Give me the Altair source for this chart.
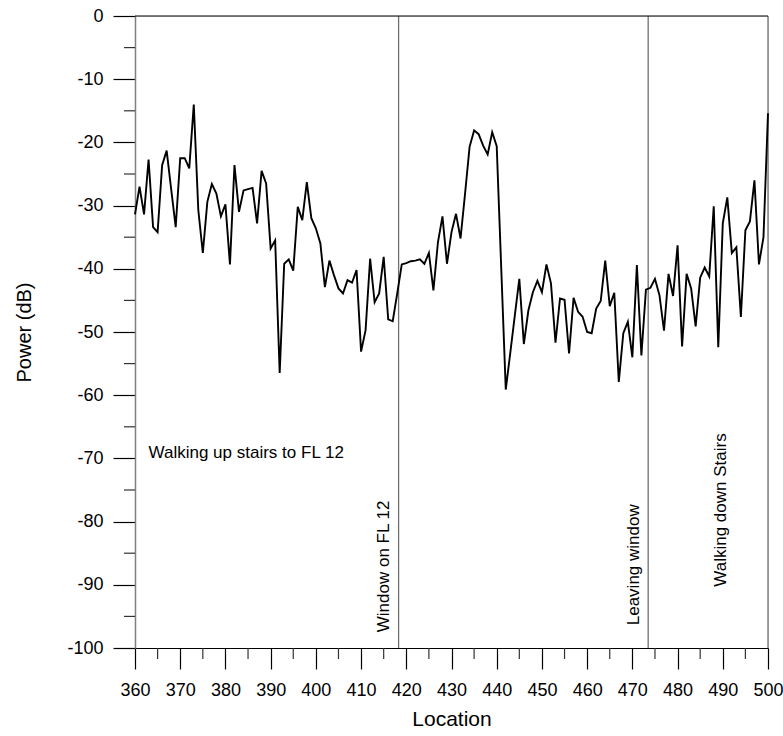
import altair as alt
import pandas as pd

locations = list(range(360, 501))
power = [
    -31.4, -27.0, -31.4, -22.7, -33.4, -34.2, -23.6, -21.3, -27.4, -33.4,
    -22.5, -22.5, -24.1, -14.0, -30.7, -37.5, -29.4, -26.6, -28.1, -31.7,
    -29.8, -39.3, -23.6, -31.0, -27.6, -27.4, -27.2, -32.8, -24.5, -26.5,
    -36.8, -35.5, -56.5, -39.2, -38.5, -40.3, -30.2, -32.3, -26.3, -32.0,
    -33.6, -36.0, -42.9, -38.7, -41.0, -43.1, -43.9, -41.8, -42.2, -40.2,
    -53.1, -49.7, -38.4, -45.3, -43.9, -38.1, -48.0, -48.3, -43.9, -39.3,
    -39.1, -38.8, -38.7, -38.5, -39.2, -37.5, -43.4, -35.8, -31.7, -39.2,
    -34.2, -31.3, -35.2, -28.1, -20.7, -18.1, -18.7, -20.5, -21.9, -18.4,
    -20.6, -39.9, -59.1, -53.3, -47.4, -41.6, -51.9, -46.6, -43.7, -41.9,
    -43.7, -39.3, -42.3, -51.7, -44.7, -44.9, -53.4, -44.6, -46.8, -47.6,
    -50.0, -50.2, -46.3, -45.1, -38.7, -45.9, -43.8, -57.9, -50.2, -48.4,
    -54.0, -39.4, -53.7, -43.3, -43.0, -41.6, -44.2, -49.8, -40.8, -44.3,
    -36.3, -52.3, -40.8, -43.1, -49.1, -41.4, -39.8, -41.2, -30.1, -52.4,
    -32.8, -28.7, -37.5, -36.6, -47.6, -33.9, -32.5, -26.0, -39.3, -35.0,
    -15.4,
]

x_major = list(range(360, 501, 10))
x_minor = list(range(365, 500, 10))
y_major = list(range(-100, 1, 10))
y_minor = list(range(-95, 0, 10))

marker_locs = [418.3, 473.5, 500]

ann_text = ["Walking up stairs to FL 12"]
ann_x = [363]
ann_y = [-69.2]

vtext = ["Window on FL 12", "Leaving window", "Walking down Stairs"]
vtext_x = [415.0, 470.3, 489.6]
vtext_y = [-97.5, -96.4, -90.3]

FONT = "Liberation Sans"
W, H = 633, 632

df = pd.DataFrame({"Location": locations, "Power": power})
markers = pd.DataFrame({"Location": marker_locs})
ann = pd.DataFrame({"text": ann_text, "x": ann_x, "y": ann_y})
vann = pd.DataFrame({"text": vtext, "x": vtext_x, "y": vtext_y})
top = pd.DataFrame({"Power": [0]})
xmin_df = pd.DataFrame({"Location": x_minor})
ymin_df = pd.DataFrame({"Power": y_minor})

x_scale = alt.Scale(domain=[360, 500], nice=False, zero=False)
y_scale = alt.Scale(domain=[-100, 0], nice=False, zero=False)

x_axis = alt.Axis(
    values=x_major,
    labelExpr="'' + datum.value",
    tickSize=21,
    tickColor="#000000",
    tickWidth=1.2,
    domainColor="#000000",
    domainWidth=1.2,
    grid=False,
    labelFont=FONT,
    labelFontSize=18,
    labelColor="#000000",
    labelPadding=12,
    labelFlush=False,
    labelOverlap=False,
    title="Location",
    titleFont=FONT,
    titleFontSize=21,
    titleFontWeight="normal",
    titleColor="#000000",
    titlePadding=9,
)

y_axis = alt.Axis(
    values=y_major,
    labelExpr="'' + datum.value",
    tickSize=22,
    tickColor="#000000",
    tickWidth=1.2,
    domainColor="#808080",
    domainWidth=1.5,
    grid=False,
    labelFont=FONT,
    labelFontSize=18,
    labelColor="#000000",
    labelPadding=10,
    labelFlush=False,
    labelOverlap=False,
    title="Power (dB)",
    titleFont=FONT,
    titleFontSize=20,
    titleFontWeight="normal",
    titleColor="#000000",
    titleX=-111,
    titleY=316,
    titleBaseline="middle",
)

line = alt.Chart(df).mark_line(color="#000000", strokeWidth=1.9).encode(
    x=alt.X("Location:Q", scale=x_scale, axis=x_axis),
    y=alt.Y("Power:Q", scale=y_scale, axis=y_axis),
)

vrules = alt.Chart(markers).mark_rule(color="#707070", strokeWidth=1.3).encode(
    x=alt.X("Location:Q", scale=x_scale)
)

toprule = alt.Chart(top).mark_rule(color="#000000", strokeWidth=1.2).encode(
    y=alt.Y("Power:Q", scale=y_scale)
)

xminor = alt.Chart(xmin_df).mark_rule(color="#333333", strokeWidth=1.2).encode(
    x=alt.X("Location:Q", scale=x_scale),
    y=alt.value(H),
    y2=alt.value(H + 11),
)

yminor = alt.Chart(ymin_df).mark_rule(color="#333333", strokeWidth=1.2).encode(
    y=alt.Y("Power:Q", scale=y_scale),
    x=alt.value(0),
    x2=alt.value(-11),
)

htext = alt.Chart(ann).mark_text(
    align="left", baseline="middle", font=FONT, fontSize=17, color="#000000"
).encode(
    x=alt.X("x:Q", scale=x_scale),
    y=alt.Y("y:Q", scale=y_scale),
    text="text:N",
)

rtext = alt.Chart(vann).mark_text(
    align="left", baseline="middle", angle=270, font=FONT, fontSize=17, color="#000000"
).encode(
    x=alt.X("x:Q", scale=x_scale),
    y=alt.Y("y:Q", scale=y_scale),
    text="text:N",
)

chart = alt.layer(vrules, toprule, xminor, yminor, line, htext, rtext).properties(
    width=W,
    height=H,
    padding={"left": 135, "top": 16, "right": 15, "bottom": 88},
    autosize="none",
).configure_view(stroke=None).configure(background="#ffffff")

chart.save("out.html", embed_options={"renderer": "svg", "actions": False})
